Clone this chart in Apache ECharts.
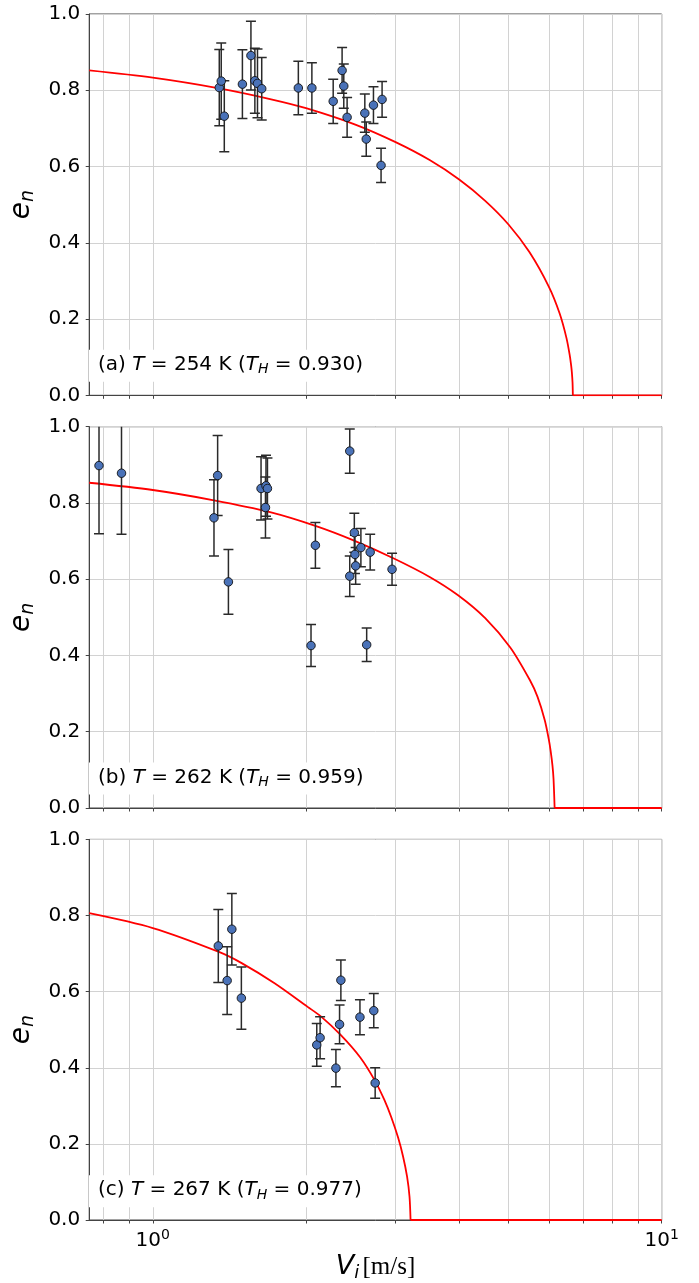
<!DOCTYPE html>
<html><head><meta charset="utf-8">
<script src="https://cdn.jsdelivr.net/npm/echarts@6/dist/echarts.min.js"></script>
<style>html,body{margin:0;padding:0;background:#fff}#c{width:699px;height:1283px}</style>
</head><body><div id="c"></div>
<script>
// ---- Panel (a) T = 254 K ----
const aV   = [1.351, 1.363, 1.382, 1.50, 1.559, 1.587, 1.606, 1.637, 1.932, 2.054, 2.262, 2.355, 2.373, 2.409, 2.61, 2.627, 2.714, 2.822, 2.809];
const aE   = [0.807, 0.824, 0.732, 0.816, 0.891, 0.825, 0.818, 0.804, 0.806, 0.806, 0.771, 0.852, 0.811, 0.729, 0.740, 0.672, 0.761, 0.776, 0.603];
const aErr = [0.100, 0.100, 0.093, 0.090, 0.090, 0.085, 0.090, 0.082, 0.070, 0.066, 0.058, 0.060, 0.058, 0.052, 0.050, 0.045, 0.048, 0.047, 0.045];
const aCurveV = [0.75, 1.0, 1.35, 1.7, 2.0, 2.5, 3.0, 3.5, 4.0, 4.5, 5.0, 5.5, 6.0, 6.3, 6.5, 6.6, 6.64, 6.66, 6.68, 6.69, 10];
const aCurveE = [0.852, 0.833, 0.805, 0.777, 0.753, 0.710, 0.664, 0.617, 0.566, 0.510, 0.448, 0.375, 0.285, 0.215, 0.150, 0.103, 0.077, 0.060, 0.034, 0, 0];

// ---- Panel (b) T = 262 K ----
const bV   = [0.784, 0.868, 1.319, 1.341, 1.408, 1.632, 1.669, 1.665, 1.680, 2.087, 2.046, 2.438, 2.489, 2.496, 2.438, 2.504, 2.564, 2.674, 2.632, 2.952];
const bE   = [0.898, 0.878, 0.761, 0.872, 0.593, 0.838, 0.845, 0.788, 0.838, 0.689, 0.426, 0.936, 0.722, 0.665, 0.608, 0.635, 0.683, 0.671, 0.428, 0.626];
const bErr = [0.179, 0.160, 0.100, 0.105, 0.085, 0.083, 0.080, 0.080, 0.080, 0.060, 0.055, 0.058, 0.051, 0.050, 0.053, 0.048, 0.050, 0.047, 0.044, 0.042];
const bCurveV = [0.75, 1.0, 1.319, 1.7, 2.087, 2.48, 2.97, 3.5, 3.98, 4.5, 5.04, 5.51, 5.7, 5.89, 6.0, 6.05, 6.10, 6.13, 6.16, 10];
const bCurveE = [0.853, 0.834, 0.807, 0.776, 0.740, 0.702, 0.655, 0.606, 0.558, 0.498, 0.421, 0.335, 0.292, 0.231, 0.180, 0.150, 0.112, 0.076, 0, 0];

// ---- Panel (c) T = 267 K ----
const cV   = [1.345, 1.430, 1.400, 1.493, 2.10, 2.132, 2.342, 2.328, 2.29, 2.553, 2.718, 2.735];
const cE   = [0.720, 0.764, 0.629, 0.583, 0.460, 0.479, 0.630, 0.514, 0.399, 0.533, 0.550, 0.360];
const cErr = [0.096, 0.094, 0.089, 0.082, 0.056, 0.055, 0.053, 0.051, 0.049, 0.046, 0.045, 0.040];
const cCurveV = [0.75, 1.0, 1.345, 1.495, 1.735, 2.015, 2.139, 2.337, 2.557, 2.735, 2.85, 2.942, 3.035, 3.103, 3.16, 3.195, 3.21, 10];
const cCurveE = [0.806, 0.767, 0.705, 0.675, 0.622, 0.560, 0.535, 0.487, 0.427, 0.365, 0.316, 0.270, 0.216, 0.167, 0.114, 0.061, 0, 0];

// ---- labels / ticks ----
const panelLabels = [
  ['(a) ', '254', '0.930'],
  ['(b) ', '262', '0.959'],
  ['(c) ', '267', '0.977']
];
const xTickVals = [0.8, 0.9, 1, 2, 3, 4, 5, 6, 7, 8, 9, 10];
const xLabelVals = [1, 10];

const FONT = 'DejaVu Sans';
const panels = [
  {V: aV, E: aE, Err: aErr, cV: aCurveV, cE: aCurveE},
  {V: bV, E: bE, Err: bErr, cV: bCurveV, cE: bCurveE},
  {V: cV, E: cE, Err: cErr, cV: cCurveV, cE: cCurveE}
];

const gridTop = [14, 426.7, 839.4];
const gridH = 381.3;
const grids = [], xAxes = [], yAxes = [], series = [], titles = [];
const axisColor = '#444';
const gridColor = '#d2d2d2';

panels.forEach((p, i) => {
  grids.push({left: 81.7, right: 37.3, top: gridTop[i], height: gridH, show: true,
    borderColor: axisColor, borderWidth: 1, backgroundColor: 'transparent', containLabel: false});
  const last = i === 2;
  xAxes.push({
    type: 'log', logBase: 10, min: 0.75, max: 10, gridIndex: i,
    axisLine: {show: true, onZero: false, lineStyle: {color: axisColor, width: 1}},
    axisTick: {show: true, length: 3.5, lineStyle: {color: axisColor, width: 1}, customValues: xTickVals},
    splitLine: {show: true, lineStyle: {color: gridColor, width: 1}},
    axisLabel: last ? {
      show: true, customValues: xLabelVals, margin: 8, color: '#000', fontFamily: FONT,
      formatter: v => '{b|10}{s|' + Math.round(Math.log10(v)) + '}',
      rich: {b: {fontSize: 20, fontFamily: FONT, color: '#000'},
             s: {fontSize: 14, fontFamily: FONT, color: '#000', padding: [0, 0, 12, 0]}}
    } : {show: false},
    name: last ? '{v|V}{i|i} {u|[m/s]}' : '',
    nameLocation: 'middle', nameGap: 32,
    nameTextStyle: {rich: {
      v: {fontSize: 27, fontStyle: 'italic', fontFamily: FONT, color: '#000'},
      i: {fontSize: 18, fontStyle: 'italic', fontFamily: FONT, color: '#000', padding: [12, 0, 0, 0]},
      u: {fontSize: 25, fontFamily: 'Liberation Serif', color: '#000'}
    }}
  });
  yAxes.push({
    type: 'value', min: 0, max: 1, interval: 0.2, gridIndex: i,
    axisLine: {show: true, lineStyle: {color: axisColor, width: 1}},
    axisTick: {show: true, length: 3.5, lineStyle: {color: axisColor, width: 1}},
    splitLine: {show: true, lineStyle: {color: gridColor, width: 1}},
    axisLabel: {show: true, margin: 9, fontSize: 20, fontFamily: FONT, color: '#000',
      formatter: v => v.toFixed(1)},
    name: '{e|e}{n|n}', nameLocation: 'middle', nameRotate: 90, nameGap: 44,
    nameTextStyle: {rich: {
      e: {fontSize: 28, fontStyle: 'italic', fontFamily: FONT, color: '#000'},
      n: {fontSize: 19, fontStyle: 'italic', fontFamily: FONT, color: '#000', padding: [12, 0, 0, 0]}
    }}
  });
  const n = p.cV.length;
  const curve = p.cV.map((v, k) => [v, p.cE[k]]);
  series.push({
    type: 'line', xAxisIndex: i, yAxisIndex: i, z: 2,
    data: curve.slice(0, n - 1),
    showSymbol: false, symbol: 'none', clip: true,
    smooth: 0.3,
    lineStyle: {color: '#ff0000', width: 1.8}, silent: true
  });
  series.push({
    type: 'line', xAxisIndex: i, yAxisIndex: i, z: 2,
    data: curve.slice(n - 2),
    showSymbol: false, symbol: 'none', clip: true,
    lineStyle: {color: '#ff0000', width: 1.8}, silent: true
  });
  series.push({
    type: 'custom', xAxisIndex: i, yAxisIndex: i, z: 3, clip: true,
    data: p.V.map((v, k) => [v, p.E[k], p.Err[k]]),
    encode: {x: 0, y: 1},
    renderItem: (params, api) => {
      const x = api.value(0), y = api.value(1), e = api.value(2);
      const t = api.coord([x, y + e]), b = api.coord([x, y - e]);
      const w = 5;
      const st = {stroke: '#2a2a2a', lineWidth: 1.5};
      return {type: 'group', children: [
        {type: 'line', shape: {x1: t[0], y1: t[1], x2: b[0], y2: b[1]}, style: st},
        {type: 'line', shape: {x1: t[0] - w, y1: t[1], x2: t[0] + w, y2: t[1]}, style: st},
        {type: 'line', shape: {x1: b[0] - w, y1: b[1], x2: b[0] + w, y2: b[1]}, style: st}
      ]};
    }
  });
  series.push({
    type: 'scatter', xAxisIndex: i, yAxisIndex: i, z: 4,
    data: p.V.map((v, k) => [v, p.E[k]]),
    symbol: 'circle', symbolSize: 8.5,
    itemStyle: {color: '#4a72b8', borderColor: '#111', borderWidth: 0.9, opacity: 1}
  });
  const L = panelLabels[i];
  titles.push({
    left: 89, top: gridTop[i] + gridH - 48.5,
    text: '{n|' + L[0] + '}{it|T}{n| = ' + L[1] + ' K (}{it|T}{sub|H}{n| = ' + L[2] + ')}',
    backgroundColor: '#fff', padding: [5, 9, 5, 9],
    textStyle: {fontWeight: 'normal', fontSize: 20, fontFamily: FONT, rich: {
      n: {fontSize: 20, fontWeight: 'normal', fontFamily: FONT, color: '#000', lineHeight: 26},
      it: {fontSize: 20, fontWeight: 'normal', fontFamily: FONT, fontStyle: 'italic', color: '#000', lineHeight: 26},
      sub: {fontSize: 14, fontWeight: 'normal', fontFamily: FONT, fontStyle: 'italic', color: '#000', padding: [10, 0, 0, 0]}
    }}
  });
});

const chart = echarts.init(document.getElementById('c'), null, {renderer: 'canvas'});
chart.setOption({
  animation: false,
  backgroundColor: '#fff',
  title: titles,
  grid: grids,
  xAxis: xAxes,
  yAxis: yAxes,
  series: series
});
</script>
</body></html>
